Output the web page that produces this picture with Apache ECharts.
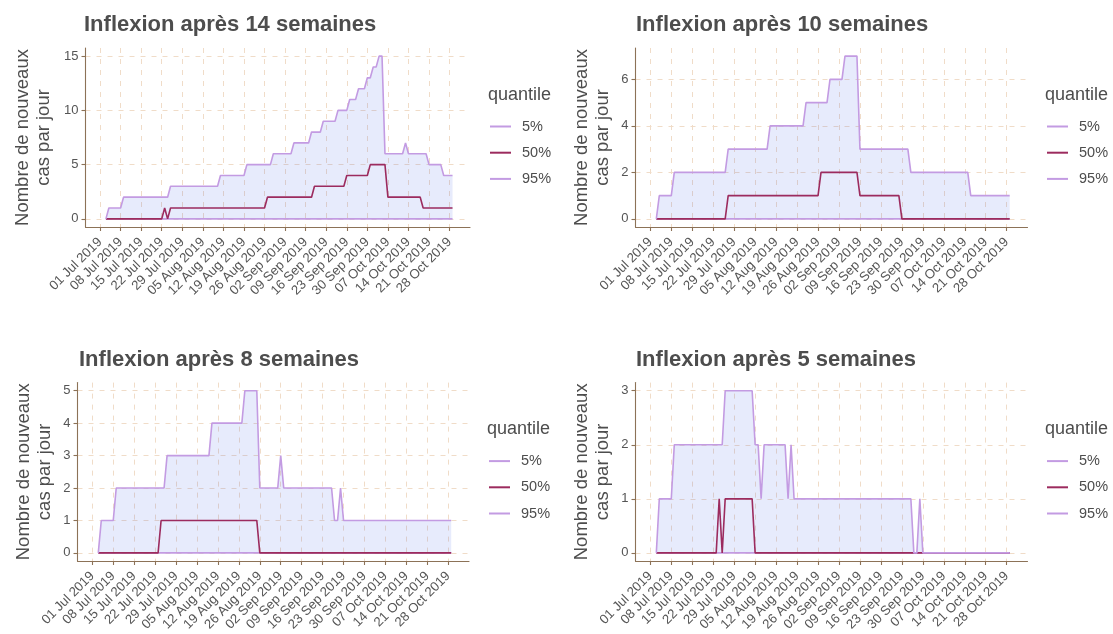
<!DOCTYPE html>
<html>
<head>
<meta charset="utf-8">
<script src="https://cdn.jsdelivr.net/npm/echarts@6.0.0/dist/echarts.min.js"></script>
<style>
html,body{margin:0;padding:0;background:#ffffff;}
#chart{width:1113px;height:634px;}
</style>
</head>
<body>
<div id="chart"></div>
<script>
// ---------------- DATA ----------------
const panelTitles = ['Inflexion après 14 semaines', 'Inflexion après 10 semaines', 'Inflexion après 8 semaines', 'Inflexion après 5 semaines'];
const yAxisTitle = 'Nombre de nouveaux\ncas par jour';
const legendTitle = 'quantile';
const quantileNames = ['5%', '50%', '95%'];

const tickDates = ['2019-07-01','2019-07-08','2019-07-15','2019-07-22','2019-07-29','2019-08-05','2019-08-12','2019-08-19','2019-08-26','2019-09-02','2019-09-09','2019-09-16','2019-09-23','2019-09-30','2019-10-07','2019-10-14','2019-10-21','2019-10-28'];
const tickLabels = ['01 Jul 2019','08 Jul 2019','15 Jul 2019','22 Jul 2019','29 Jul 2019','05 Aug 2019','12 Aug 2019','19 Aug 2019','26 Aug 2019','02 Sep 2019','09 Sep 2019','16 Sep 2019','23 Sep 2019','30 Sep 2019','07 Oct 2019','14 Oct 2019','21 Oct 2019','28 Oct 2019'];

const yTicks14 = [0, 5, 10, 15];
const yTicks10 = [0, 2, 4, 6];
const yTicks8 = [0, 1, 2, 3, 4, 5];
const yTicks5 = [0, 1, 2, 3];

// Inflexion après 14 semaines
const w14_q5 = [['2019-07-03',0],['2019-10-29',0]];
const w14_q50 = [['2019-07-03',0],['2019-07-22',0],['2019-07-23',1],['2019-07-24',0],['2019-07-25',1],['2019-08-26',1],['2019-08-27',2],['2019-09-11',2],['2019-09-12',3],['2019-09-22',3],['2019-09-23',4],['2019-09-30',4],['2019-10-01',5],['2019-10-06',5],['2019-10-07',2],['2019-10-18',2],['2019-10-19',1],['2019-10-29',1]];
const w14_q95 = [['2019-07-03',0],['2019-07-04',1],['2019-07-08',1],['2019-07-09',2],['2019-07-24',2],['2019-07-25',3],['2019-08-10',3],['2019-08-11',4],['2019-08-19',4],['2019-08-20',5],['2019-08-28',5],['2019-08-29',6],['2019-09-04',6],['2019-09-05',7],['2019-09-10',7],['2019-09-11',8],['2019-09-14',8],['2019-09-15',9],['2019-09-19',9],['2019-09-20',10],['2019-09-23',10],['2019-09-24',11],['2019-09-26',11],['2019-09-27',12],['2019-09-29',12],['2019-09-30',13],['2019-10-01',13],['2019-10-02',14],['2019-10-03',14],['2019-10-04',15],['2019-10-05',15],['2019-10-06',6],['2019-10-12',6],['2019-10-13',7],['2019-10-14',6],['2019-10-20',6],['2019-10-21',5],['2019-10-25',5],['2019-10-26',4],['2019-10-29',4]];

// Inflexion après 10 semaines
const w10_q5 = [['2019-07-03',0],['2019-10-29',0]];
const w10_q50 = [['2019-07-03',0],['2019-07-26',0],['2019-07-27',1],['2019-08-26',1],['2019-08-27',2],['2019-09-08',2],['2019-09-09',1],['2019-09-22',1],['2019-09-23',0],['2019-10-29',0]];
const w10_q95 = [['2019-07-03',0],['2019-07-04',1],['2019-07-08',1],['2019-07-09',2],['2019-07-26',2],['2019-07-27',3],['2019-08-09',3],['2019-08-10',4],['2019-08-21',4],['2019-08-22',5],['2019-08-29',5],['2019-08-30',6],['2019-09-03',6],['2019-09-04',7],['2019-09-08',7],['2019-09-09',3],['2019-09-25',3],['2019-09-26',2],['2019-10-15',2],['2019-10-16',1],['2019-10-29',1]];

// Inflexion après 8 semaines
const w8_q5 = [['2019-07-03',0],['2019-10-29',0]];
const w8_q50 = [['2019-07-03',0],['2019-07-23',0],['2019-07-24',1],['2019-08-25',1],['2019-08-26',0],['2019-10-29',0]];
const w8_q95 = [['2019-07-03',0],['2019-07-04',1],['2019-07-08',1],['2019-07-09',2],['2019-07-25',2],['2019-07-26',3],['2019-08-09',3],['2019-08-10',4],['2019-08-20',4],['2019-08-21',5],['2019-08-25',5],['2019-08-26',2],['2019-09-01',2],['2019-09-02',3],['2019-09-03',2],['2019-09-19',2],['2019-09-20',1],['2019-09-21',1],['2019-09-22',2],['2019-09-23',1],['2019-10-29',1]];

// Inflexion après 5 semaines
const w5_q5 = [['2019-07-03',0],['2019-10-29',0]];
const w5_q50 = [['2019-07-03',0],['2019-07-23',0],['2019-07-24',1],['2019-07-25',0],['2019-07-26',1],['2019-08-04',1],['2019-08-05',0],['2019-10-29',0]];
const w5_q95 = [['2019-07-03',0],['2019-07-04',1],['2019-07-08',1],['2019-07-09',2],['2019-07-25',2],['2019-07-26',3],['2019-08-04',3],['2019-08-05',2],['2019-08-06',2],['2019-08-07',1],['2019-08-08',2],['2019-08-15',2],['2019-08-16',1],['2019-08-17',2],['2019-08-18',1],['2019-09-26',1],['2019-09-27',0],['2019-09-28',0],['2019-09-29',1],['2019-09-30',0],['2019-10-29',0]];

// ---------------- LAYOUT / STYLE ----------------
const FONT = 'Liberation Sans, Arial, Helvetica, sans-serif';
const C_LIGHT = '#c39be2';
const C_DARK = '#9c2b5e';
const C_FILL = 'rgba(70,100,230,0.13)';
const C_AXIS = '#8c7257';
const C_GRID = '#f0dcc8';
const C_TEXT = '#4d4d4d';
const C_TICKTXT = '#555555';

const DAY = 86400000;
const ORIGIN = Date.parse('2019-07-01');
const toDay = s => (Date.parse(s) - ORIGIN) / DAY;
const tickDays = tickDates.map(toDay);
const conv = arr => arr.map(p => [toDay(p[0]), p[1]]);

const panels = [
  {title: panelTitles[0], q5: w14_q5, q50: w14_q50, q95: w14_q95, yTicks: yTicks14, yMin: -0.75, yMax: 15.75,
   box: {left: 85.5, top: 48, width: 384.5, height: 179}, nameGap: 31, titleLeft: 84, titleTop: 14, legLeft: 490, legTitleLeft: 488, legTop: 119, legTitleTop: 86},
  {title: panelTitles[1], q5: w10_q5, q50: w10_q50, q95: w10_q95, yTicks: yTicks10, yMin: -0.35, yMax: 7.35,
   box: {left: 635.5, top: 48, width: 392, height: 179}, nameGap: 22, titleLeft: 636, titleTop: 14, legLeft: 1047, legTitleLeft: 1045, legTop: 119, legTitleTop: 86},
  {title: panelTitles[2], q5: w8_q5, q50: w8_q50, q95: w8_q95, yTicks: yTicks8, yMin: -0.25, yMax: 5.25,
   box: {left: 77.5, top: 382.6, width: 391.5, height: 178.4}, nameGap: 22, titleLeft: 79, titleTop: 348.6, legLeft: 489, legTitleLeft: 487, legTop: 453.6, legTitleTop: 419.6},
  {title: panelTitles[3], q5: w5_q5, q50: w5_q50, q95: w5_q95, yTicks: yTicks5, yMin: -0.15, yMax: 3.15,
   box: {left: 635.5, top: 382.6, width: 392, height: 178.4}, nameGap: 22, titleLeft: 636, titleTop: 348.6, legLeft: 1047, legTitleLeft: 1045, legTop: 453.6, legTitleTop: 419.6}
];

const option = {
  animation: false,
  backgroundColor: '#ffffff',
  textStyle: {fontFamily: FONT},
  title: [], grid: [], xAxis: [], yAxis: [], series: [], legend: []
};

const lineColors = [C_LIGHT, C_DARK, C_LIGHT];

panels.forEach((p, i) => {
  option.title.push({text: p.title, left: p.titleLeft, top: p.titleTop, padding: 0,
    textStyle: {fontFamily: FONT, fontSize: 22, fontWeight: 'bold', color: C_TEXT, lineHeight: 22}});
  option.title.push({text: legendTitle, left: p.legTitleLeft, top: p.legTitleTop, padding: 0,
    textStyle: {fontFamily: FONT, fontSize: 18, fontWeight: 'normal', color: C_TEXT, lineHeight: 18}});
  option.grid.push(Object.assign({containLabel: false}, p.box));
  option.xAxis.push({
    type: 'value', gridIndex: i, min: -4.95, max: 125.95,
    axisLine: {show: true, onZero: false, lineStyle: {color: C_AXIS, width: 1.1}},
    axisTick: {show: true, length: 4, customValues: tickDays, lineStyle: {color: C_AXIS, width: 1.1}},
    axisLabel: {show: true, customValues: tickDays, rotate: 45, margin: 13,
      fontSize: 13.2, color: C_TICKTXT, fontFamily: FONT,
      formatter: v => { const k = tickDays.indexOf(v); return k >= 0 ? tickLabels[k] : ''; }},
    splitLine: {show: true, lineStyle: {color: C_GRID, type: [5, 6], width: 1}}
  });
  option.yAxis.push({
    type: 'value', gridIndex: i, min: p.yMin, max: p.yMax,
    name: yAxisTitle, nameLocation: 'middle', nameRotate: 90, nameGap: p.nameGap,
    nameTextStyle: {fontFamily: FONT, fontSize: 18.5, color: C_TEXT, lineHeight: 21},
    axisLine: {show: true, onZero: false, lineStyle: {color: C_AXIS, width: 1.1}},
    axisTick: {show: true, length: 4, customValues: p.yTicks, lineStyle: {color: C_AXIS, width: 1.1}},
    axisLabel: {show: true, customValues: p.yTicks, margin: 7, fontSize: 13, color: C_TICKTXT, fontFamily: FONT},
    splitLine: {show: true, lineStyle: {color: C_GRID, type: [5, 6], width: 1}}
  });
  option.series.push({
    name: 'band' + i, type: 'line', xAxisIndex: i, yAxisIndex: i, data: conv(p.q95),
    symbol: 'none', silent: true, lineStyle: {width: 0, opacity: 0},
    areaStyle: {color: C_FILL, opacity: 1, origin: 0}, z: 1
  });
  [p.q5, p.q50, p.q95].forEach((d, k) => {
    option.series.push({
      name: quantileNames[k], type: 'line', xAxisIndex: i, yAxisIndex: i, data: conv(d),
      symbol: 'none', showSymbol: false, color: lineColors[k],
      itemStyle: {color: lineColors[k]},
      lineStyle: {color: lineColors[k], width: 1.6}, z: 2 + k
    });
  });
  option.legend.push({
    data: quantileNames.map((n, k) => ({name: n, icon: 'rect', itemStyle: {color: lineColors[k]}})),
    orient: 'vertical', left: p.legLeft, top: p.legTop,
    itemWidth: 21, itemHeight: 2, itemGap: 11.2, padding: 0, selectedMode: false,
    textStyle: {fontFamily: FONT, fontSize: 14.5, color: C_TEXT, lineHeight: 14, padding: [0, 0, 0, 6]}
  });
});

const chart = echarts.init(document.getElementById('chart'), null, {renderer: 'canvas'});
chart.setOption(option);
</script>
</body>
</html>
